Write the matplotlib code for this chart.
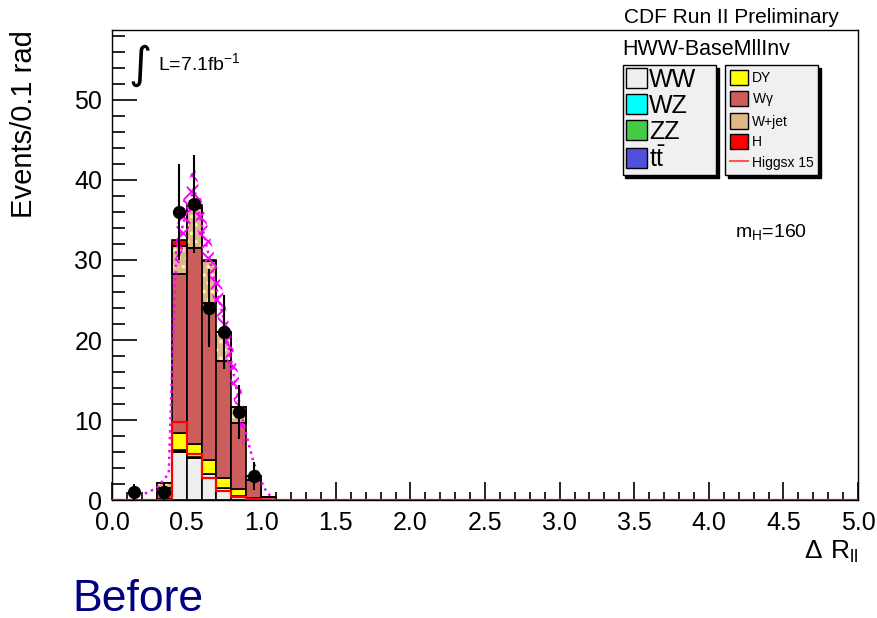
import numpy as np
import matplotlib
matplotlib.use("Agg")
import matplotlib.pyplot as plt
from matplotlib.patches import Patch
from matplotlib.lines import Line2D

plt.rcParams["font.family"] = ["Liberation Sans", "DejaVu Sans"]
plt.rcParams["hatch.linewidth"] = 1.4

# Delta R_ll binning: 0.1 rad bins from 0 to 5
edges = np.round(np.arange(0.0, 5.05, 0.1), 2)
# filled bins of the background stack (lower edges)
bin_lo = [0.3, 0.4, 0.5, 0.6, 0.7, 0.8, 0.9, 1.0]

ww = [0.05, 5.95, 5.20, 3.20, 1.50, 0.50, 0.15, 0.02]
wz = [0.00, 0.10, 0.05, 0.03, 0.02, 0.01, 0.00, 0.00]
zz = [0.00, 0.05, 0.05, 0.02, 0.01, 0.01, 0.00, 0.00]
ttbar = [0.02, 0.20, 0.10, 0.05, 0.02, 0.01, 0.02, 0.01]
dy = [0.05, 2.10, 1.65, 1.65, 1.15, 0.85, 0.10, 0.00]
wgamma = [1.40, 19.90, 24.50, 19.70, 14.65, 8.20, 2.20, 0.30]
wjet = [0.60, 3.50, 5.00, 5.20, 3.60, 2.00, 0.50, 0.10]
higgs = [0.00, 0.65, 0.38, 0.18, 0.07, 0.03, 0.01, 0.00]

# signal scaled by 15 (outline)
higgs_x15 = [0.0, 9.7, 5.75, 2.7, 1.1, 0.4, 0.1, 0.0]

# data
data_x = [0.15, 0.35, 0.45, 0.55, 0.65, 0.75, 0.85, 0.95]
data_n = [1, 1, 36, 37, 24, 21, 11, 3]

# magenta shape curve
shape_x = [0.22, 0.30, 0.38, 0.40, 0.43, 0.49, 0.55, 0.60, 0.66, 0.745, 0.81, 0.88, 0.95, 1.02, 1.08]
shape_y = [0.8, 1.5, 3.3, 15.0, 31.0, 35.5, 39.0, 34.5, 29.6, 22.9, 16.2, 9.6, 4.6, 1.5, 0.0]

names = ["WW", "WZ", "ZZ", r"t$\mathregular{\bar{t}}$", "DY", r"W$\mathregular{\gamma}$", "W+jet", "H"]
colors = ["#eeeeee", "#00ffff", "#44cc44", "#5050dd", "#ffff00", "#cd5c5c", "#deb887", "#ff0000"]
stack = [ww, wz, zz, ttbar, dy, wgamma, wjet, higgs]

fig = plt.figure(figsize=(8.78, 6.18), dpi=100)
ax = fig.add_axes([0.1276, 0.1909, 0.8497, 0.7606])

bottom = np.zeros(len(bin_lo))
for vals, col in zip(stack, colors):
    ax.bar(bin_lo, vals, width=0.1, bottom=bottom, align="edge",
           color=col, edgecolor="black", linewidth=1.2, zorder=2)
    if col == "#deb887":
        # speckle texture on the W+jet component
        ax.bar(bin_lo, vals, width=0.1, bottom=bottom, align="edge",
               fill=False, edgecolor="#fff2a8", hatch="..", linewidth=0, zorder=2.1)
        ax.bar(bin_lo, vals, width=0.1, bottom=bottom, align="edge",
               fill=False, edgecolor="black", linewidth=1.2, zorder=2.2)
    bottom += np.array(vals)

# Higgs x15 outline across the full range
h15_full = np.zeros(len(edges) - 1)
h15_full[3:3 + len(higgs_x15)] = higgs_x15
ax.stairs(h15_full, edges, color="red", linewidth=1.6, zorder=3)

# magenta band + dotted line
sx = np.array(shape_x)
sy = np.array(shape_y)
band = (sx >= 0.43) & (sx <= 0.88)
ax.fill_between(sx[band], sy[band] - 3.0, sy[band] + 3.0, facecolor="none",
                edgecolor="#ff00ff", hatch="xx", linewidth=0, zorder=4)
ax.plot(sx, sy, color="#ff00ff", linestyle=":", linewidth=1.8, zorder=4)

ax.errorbar(data_x, data_n, yerr=np.sqrt(data_n), fmt="o", color="black",
            markersize=8.5, elinewidth=1.5, capsize=0, zorder=10)

ax.set_xlim(0, 5)
ax.set_ylim(0, 58.75)
ax.set_xticks(np.arange(0, 5.01, 0.5))
ax.set_xticklabels([f"{v:.1f}" for v in np.arange(0, 5.01, 0.5)])
ax.set_xticks(np.arange(0, 5.01, 0.1), minor=True)
ax.set_yticks(np.arange(0, 51, 10))
ax.set_yticks(np.arange(0, 59, 2), minor=True)
ax.tick_params(which="both", direction="in", top=False, right=False,
               labelsize=18, width=1.2)
ax.tick_params(axis="y", which="major", length=18, pad=7)
ax.tick_params(axis="y", which="minor", length=9)
ax.tick_params(axis="x", which="major", length=13, pad=8)
ax.tick_params(axis="x", which="minor", length=6)
for s in ax.spines.values():
    s.set_linewidth(1.0)

ax.set_ylabel("Events/0.1 rad", fontsize=21, loc="top")
ax.yaxis.set_label_coords(-0.099, 1.0)
ax.set_xlabel(r"$\mathregular{\Delta\ R_{ll}}$", fontsize=19, loc="right")
ax.xaxis.set_label_coords(1.0, -0.083)
ax.xaxis.label.set_va("top")

ax.text(0.022, 0.925, "∫", transform=ax.transAxes, fontsize=32,
        family="DejaVu Sans", va="center", ha="left")
ax.text(0.062, 0.93, r"L=7.1fb$\mathregular{^{-1}}$", transform=ax.transAxes,
        fontsize=14, va="center", ha="left")
ax.text(0.835, 0.57, r"$\mathregular{m_H}$=160", transform=ax.transAxes,
        fontsize=14, va="center", ha="left")

fig.text(0.711, 0.987, "CDF Run II Preliminary", fontsize=15, va="top", ha="left")
fig.text(0.709, 0.937, "HWW-BaseMllInv", fontsize=15.5, va="top", ha="left")

# two legend panels
left_handles = [Patch(facecolor=c, edgecolor="black") for c in colors[:4]]
leg1 = fig.legend(left_handles, names[:4], loc="upper left",
                  bbox_to_anchor=(0.709, 0.8948, 0.107, 0.0), mode="expand",
                  fontsize=18, frameon=True, fancybox=False,
                  shadow={"color": "black", "alpha": 1.0},
                  facecolor="#f0f0f0", edgecolor="black", framealpha=1,
                  handlelength=0.85, handleheight=0.85, handletextpad=0.1,
                  labelspacing=0.08, borderpad=0.12, borderaxespad=0)
right_handles = [Patch(facecolor=c, edgecolor="black") for c in colors[4:]]
right_handles.append(Line2D([0], [0], color="#ff5555", linewidth=1.5))
leg2 = fig.legend(right_handles, names[4:] + ["Higgsx 15"], loc="upper left",
                  bbox_to_anchor=(0.826, 0.8948, 0.106, 0.0), mode="expand",
                  fontsize=10, frameon=True, fancybox=False,
                  shadow={"color": "black", "alpha": 1.0},
                  facecolor="#f0f0f0", edgecolor="black", framealpha=1,
                  handlelength=1.3, handleheight=1.3, handletextpad=0.3,
                  labelspacing=0.4, borderpad=0.35, borderaxespad=0)
leg1.get_frame().set_linewidth(1.0)
leg2.get_frame().set_linewidth(1.0)

fig.text(0.082, 0.012, "Before", fontsize=32, color="#000080",
         va="baseline", ha="left")

fig.savefig("out.png", dpi=100)
